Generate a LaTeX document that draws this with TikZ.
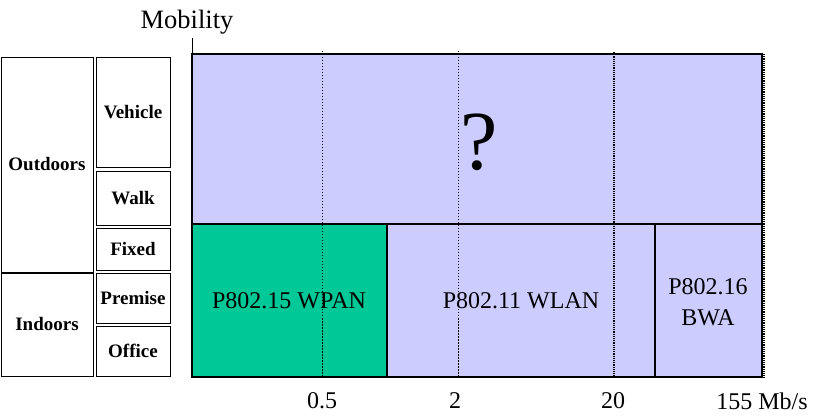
\documentclass[tikz,border=0pt]{standalone}
\usepackage{fontspec}
\setmainfont{Liberation Serif}
\usepackage{xcolor}
\definecolor{chartink}{HTML}{000000}
\definecolor{chartlilac}{HTML}{CCCCFF}
\definecolor{chartgreen}{HTML}{00C896}

\begin{document}
\begin{tikzpicture}[
  x=1pt,
  y=-1pt,
  every node/.style={font=\fontsize{24}{29}\selectfont, text=chartink, inner sep=0pt},
  cell/.style={draw=chartink, line width=0.9pt, font=\fontsize{19}{22}\selectfont\bfseries},
  edge/.style={draw=chartink, line width=1.6pt},
  grid/.style={draw=chartink, line width=1pt, dash pattern=on 1.5pt off 1.5pt},
  rim/.style={draw=chartink, line width=1.4pt, dash pattern=on 1.2pt off 1pt}
]
  \useasboundingbox (0,0) rectangle (819,419);

  \fill[chartlilac] (192,54) rectangle (762,377);
  \fill[chartgreen] (192,224) rectangle (387,377);

  \draw[grid] (322,51) -- (322,377);
  \draw[grid] (458,51) -- (458,377);
  \draw[rim] (614,52) -- (614,377);
  \draw[rim] (764,54) -- (764,378);

  \draw[edge] (192,54) rectangle (762,377);
  \draw[edge] (192,224) -- (762,224);
  \draw[edge] (387,224) -- (387,377);
  \draw[edge] (655,224) -- (655,377);

  \node[font=\fontsize{26.5}{30}\selectfont] (mobility) at (187,22) {Mobility};
  \coordinate (axistop) at (192,38);
  \coordinate (axisfoot) at (192,54);
  \draw[chartink, line width=1pt] (axistop) -- (axisfoot);

  \node[font=\fontsize{84}{88}\selectfont] (query) at (479,142) {?};
  \node (wpan) at (289,301) {P802.15 WPAN};
  \node (wlan) at (521,301) {P802.11 WLAN};
  \node[align=center, font=\fontsize{24}{31}\selectfont] (bwa) at (708,302) {P802.16\\BWA};

  \node (tickhalf) at (322,401) {0.5};
  \node (ticktwo) at (455,401) {2};
  \node (ticktwenty) at (613,401) {20};
  \node (tickmax) at (762,401) {155 Mb/s};

  \node[cell, minimum width=92pt, minimum height=215pt] (outdoors) at (47,164.5) {Outdoors};
  \node[cell, minimum width=92pt, minimum height=103pt] (indoors) at (47,324.5) {Indoors};
  \node[cell, minimum width=74pt, minimum height=110pt] (vehicle) at (133,112) {Vehicle};
  \node[cell, minimum width=74pt, minimum height=54pt] (walk) at (133,198) {Walk};
  \node[cell, minimum width=74pt, minimum height=42pt] (fixed) at (133,249) {Fixed};
  \node[cell, minimum width=74pt, minimum height=50pt] (premise) at (133,298) {Premise};
  \node[cell, minimum width=74pt, minimum height=50pt] (office) at (133,351) {Office};
\end{tikzpicture}
\end{document}
